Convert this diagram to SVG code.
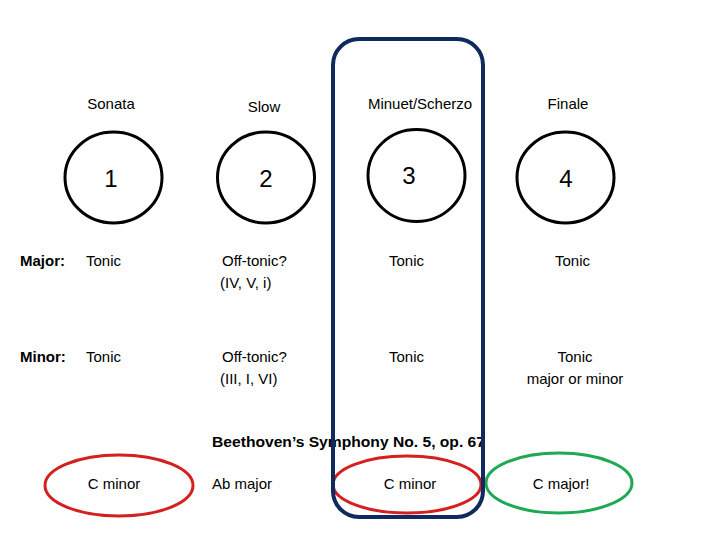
<svg xmlns="http://www.w3.org/2000/svg" width="720" height="540" viewBox="0 0 720 540">
<style>
text{font-family:"Liberation Sans","DejaVu Sans",sans-serif;fill:#000;}
.h{font-size:15px;text-anchor:middle;}
.n{font-size:24px;text-anchor:middle;}
.t{font-size:15px;}
.b{font-size:15px;font-weight:bold;}
.c{fill:none;stroke:#000;stroke-width:3;}
.red{fill:none;stroke:#d42020;stroke-width:3;}
.grn{fill:none;stroke:#1fa855;stroke-width:3;}
</style>
<rect width="720" height="540" fill="#fff"/>
<g id="mv1"><text class="h" x="111" y="109">Sonata</text><ellipse class="c" cx="113.5" cy="177.5" rx="48.5" ry="45.5"/><text class="n" x="111" y="187">1</text></g>
<g id="mv2"><text class="h" x="264" y="112">Slow</text><ellipse class="c" cx="266" cy="177.5" rx="48.5" ry="45.5"/><text class="n" x="266" y="187">2</text></g>
<g id="mv3"><text class="h" x="420" y="109">Minuet/Scherzo</text><ellipse class="c" cx="416.5" cy="175.5" rx="48.5" ry="46"/><text class="n" x="409" y="184">3</text></g>
<g id="mv4"><text class="h" x="568" y="109">Finale</text><ellipse class="c" cx="565.5" cy="177.5" rx="48.5" ry="45.5"/><text class="n" x="566" y="187">4</text></g>
<g id="major">
<text class="b" x="20" y="266">Major:</text>
<text class="t" x="86" y="266">Tonic</text>
<text class="t" x="222" y="266">Off-tonic?</text>
<text class="t" x="220" y="288">(IV, V, i)</text>
<text class="t" x="389" y="266">Tonic</text>
<text class="t" x="555" y="266">Tonic</text>
</g>
<g id="minor">
<text class="b" x="20" y="362">Minor:</text>
<text class="t" x="86" y="362">Tonic</text>
<text class="t" x="222" y="362">Off-tonic?</text>
<text class="t" x="220" y="384">(III, I, VI)</text>
<text class="t" x="389" y="362">Tonic</text>
<text class="t" x="575" y="362" text-anchor="middle">Tonic</text>
<text class="t" x="575" y="384" text-anchor="middle">major or minor</text>
</g>
<g id="example">
<text class="b" x="212" y="447" font-size="14" textLength="273" lengthAdjust="spacingAndGlyphs">Beethoven’s Symphony No. 5, op. 67</text>
<ellipse class="red" cx="119" cy="485.5" rx="74" ry="30.5"/>
<text class="t" x="114" y="489" text-anchor="middle">C minor</text>
<text class="t" x="212" y="489">Ab major</text>
<ellipse class="red" cx="407" cy="484.5" rx="74" ry="28.5"/>
<text class="t" x="410" y="489" text-anchor="middle">C minor</text>
<ellipse class="grn" cx="559" cy="483" rx="73" ry="30"/>
<text class="t" x="561" y="489" text-anchor="middle">C major!</text>
</g>
<g id="highlight"><rect x="333" y="39" width="150" height="478" rx="26" fill="none" stroke="#0f2a5c" stroke-width="4"/></g>
</svg>
